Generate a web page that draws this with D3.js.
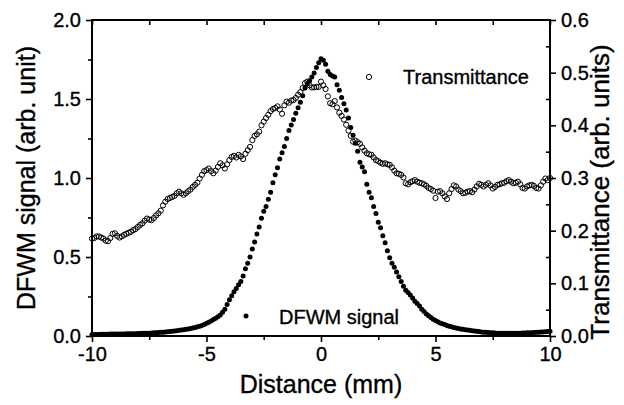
<!DOCTYPE html>
<html><head><meta charset="utf-8">
<script src="https://cdn.jsdelivr.net/npm/d3@7"></script>
<style>body{margin:0;background:#fff} text{font-family:Arial,"Liberation Sans",Helvetica,sans-serif;fill:#000;stroke:#000;stroke-width:0.35px}</style>
</head><body><svg id="c" width="624" height="405"></svg>
<script>
// ---- data (distance grid: -10 mm to 10 mm, 0.1 mm steps) ----
const distanceStart = -10, distanceStep = 0.1;
const dfwmSignal = [
0.010,0.010,0.010,0.010,0.011,0.011,0.011,0.011,0.012,0.012,
0.012,0.012,0.013,0.013,0.013,0.014,0.014,0.014,0.015,0.015,
0.016,0.016,0.017,0.017,0.018,0.018,0.019,0.020,0.021,0.022,
0.023,0.024,0.026,0.027,0.029,0.030,0.032,0.034,0.036,0.038,
0.040,0.042,0.045,0.048,0.051,0.054,0.058,0.062,0.067,0.073,
0.080,0.087,0.095,0.104,0.113,0.122,0.133,0.150,
0.170,0.200,0.230,0.255,0.280,0.300,0.325,0.345,0.380,0.425,
0.460,0.500,0.550,0.595,0.645,0.690,0.745,0.790,0.820,0.865,
0.910,0.970,1.020,1.065,1.120,1.160,1.200,1.250,1.300,1.335,
1.370,1.410,1.445,1.480,1.520,1.570,1.595,1.615,1.640,1.665,
1.700,1.730,1.755,1.745,1.720,1.675,1.655,1.645,1.640,1.590,
1.555,1.510,1.470,1.430,1.380,1.320,1.270,1.220,1.170,1.100,
1.070,1.040,0.960,0.910,0.875,0.820,0.775,0.720,0.685,0.635,
0.590,0.540,0.495,0.460,0.435,0.405,0.375,0.345,0.315,0.290,
0.275,0.260,0.240,0.220,0.205,0.190,0.170,0.155,0.140,0.128,
0.117,0.106,0.098,0.090,0.083,0.077,0.072,0.067,0.062,0.058,
0.054,0.051,0.048,0.045,0.042,0.040,0.038,0.036,0.034,0.032,
0.030,0.028,0.026,0.024,0.023,0.022,0.021,0.020,0.019,0.018,
0.018,0.017,0.017,0.017,0.017,0.017,0.017,0.018,0.018,0.018,
0.019,0.019,0.020,0.020,0.021,0.022,0.023,0.024,0.025,0.026,
0.027,0.028,0.030
];
const transmittance = [
0.185,0.186,0.189,0.189,0.187,0.185,0.181,0.180,0.186,0.194,
0.195,0.190,0.187,0.189,0.192,0.194,0.196,0.198,0.201,0.203,
0.207,0.211,0.214,0.219,0.223,0.221,0.220,0.224,0.229,0.233,
0.238,0.248,0.255,0.260,0.262,0.264,0.266,0.271,0.274,0.271,
0.268,0.271,0.275,0.278,0.283,0.287,0.291,0.299,0.306,0.313,
0.315,0.318,0.313,0.309,0.314,0.321,0.328,0.324,0.318,0.326,
0.334,0.340,0.342,0.339,0.344,0.341,0.336,0.346,0.353,0.359,
0.372,0.380,0.383,0.388,0.400,0.407,0.414,0.420,0.427,0.431,
0.433,0.436,0.430,0.422,0.438,0.445,0.443,0.447,0.448,0.452,
0.458,0.463,0.471,0.480,0.483,0.476,0.472,0.472,0.473,0.473,
0.483,0.476,0.469,0.455,0.442,0.440,0.446,0.434,0.424,0.418,
0.411,0.401,0.390,0.380,0.369,0.371,0.368,0.365,0.358,0.352,
0.347,0.345,0.344,0.339,0.334,0.332,0.329,0.327,0.328,0.326,
0.325,0.320,0.314,0.309,0.308,0.306,0.301,0.290,0.288,0.292,
0.294,0.296,0.293,0.291,0.290,0.288,0.285,0.281,0.279,0.276,
0.262,0.274,0.275,0.271,0.265,0.260,0.271,0.279,0.286,0.284,
0.278,0.275,0.271,0.272,0.274,0.275,0.273,0.278,0.284,0.289,
0.287,0.284,0.287,0.290,0.286,0.280,0.283,0.287,0.288,0.290,
0.291,0.294,0.296,0.293,0.290,0.291,0.293,0.288,0.281,0.280,
0.284,0.286,0.287,0.285,0.281,0.280,0.286,0.293,0.299,0.296,
0.300
];
const xTicks = [-10, -5, 0, 5, 10];
const xMinorTicks = [-7.5, -2.5, 2.5, 7.5];
const yLeftTicks = [0, 0.5, 1.0, 1.5, 2.0];
const yLeftMinor = [0.25, 0.75, 1.25, 1.75];
const yRightTicks = [0, 0.1, 0.2, 0.3, 0.4, 0.5, 0.6];
const yRightMinor = [0.05, 0.15, 0.25, 0.35, 0.45, 0.55];
const xTitle = "Distance (mm)";
const yLeftTitle = "DFWM signal (arb. unit)";
const yRightTitle = "Transmittance (arb. units)";
const legendT = "Transmittance";
const legendD = "DFWM signal";

const distance = dfwmSignal.map((_, i) => +(distanceStart + i * distanceStep).toFixed(1));

const svg = d3.select("#c");
const L = 92, R = 550, T = 20, B = 336;
const x = d3.scaleLinear().domain([-10, 10]).range([L, R]);
const yL = d3.scaleLinear().domain([0, 2]).range([B, T]);
const yR = d3.scaleLinear().domain([0, 0.6]).range([B, T]);

const fmt1 = d => d.toFixed(1);
const fmtX = d => String(d);

function styleAxis(g, fs) {
  g.select(".domain").remove();
  g.selectAll("line").attr("stroke", "#000").attr("stroke-width", 1.6);
  g.selectAll("text").attr("font-size", fs).attr("fill", "#000")
    .style("font-family", "Arial, 'Liberation Sans', sans-serif");
}

// bottom
svg.append("g").attr("transform", `translate(0,${B})`)
  .call(d3.axisBottom(x).tickValues(xTicks).tickFormat(fmtX).tickSize(6).tickPadding(5))
  .call(g => styleAxis(g, 20));
svg.append("g").attr("transform", `translate(0,${B})`)
  .call(d3.axisBottom(x).tickValues(xMinorTicks).tickFormat("").tickSize(4))
  .call(g => styleAxis(g, 20));
// top (inward ticks)
svg.append("g").attr("transform", `translate(0,${T})`)
  .call(d3.axisBottom(x).tickValues(xTicks.concat(xMinorTicks)).tickFormat("").tickSize(5))
  .call(g => styleAxis(g, 20));
// left
svg.append("g").attr("transform", `translate(${L},0)`)
  .call(d3.axisLeft(yL).tickValues(yLeftTicks).tickFormat(fmt1).tickSize(6).tickPadding(5))
  .call(g => styleAxis(g, 20));
svg.append("g").attr("transform", `translate(${L},0)`)
  .call(d3.axisLeft(yL).tickValues(yLeftMinor).tickFormat("").tickSize(4))
  .call(g => styleAxis(g, 20));
// right
svg.append("g").attr("transform", `translate(${R},0)`)
  .call(d3.axisRight(yR).tickValues(yRightTicks).tickFormat(fmt1).tickSize(6).tickPadding(5))
  .call(g => styleAxis(g, 20));
svg.append("g").attr("transform", `translate(${R},0)`)
  .call(d3.axisLeft(yR).tickValues(yRightMinor).tickFormat("").tickSize(4))
  .call(g => styleAxis(g, 20));

// frame
svg.append("rect").attr("x", L).attr("y", T).attr("width", R - L).attr("height", B - T)
  .attr("fill", "none").attr("stroke", "#000").attr("stroke-width", 2);

// transmittance (open circles)
svg.append("g").selectAll("circle").data(transmittance).join("circle")
  .attr("cx", (d, i) => x(distance[i])).attr("cy", d => yR(d)).attr("r", 2.6)
  .attr("fill", "none").attr("stroke", "#000").attr("stroke-width", 1);

// DFWM (filled)
svg.append("g").selectAll("circle").data(dfwmSignal).join("circle")
  .attr("cx", (d, i) => x(distance[i])).attr("cy", d => yL(d)).attr("r", 2.5)
  .attr("fill", "#000");

// legends
svg.append("circle").attr("cx", 369).attr("cy", 77).attr("r", 2.6)
  .attr("fill", "none").attr("stroke", "#000");
svg.append("text").attr("x", 403).attr("y", 84).attr("font-size", 20).text(legendT);
svg.append("circle").attr("cx", 246).attr("cy", 316).attr("r", 2.5).attr("fill", "#000");
svg.append("text").attr("x", 279).attr("y", 324).attr("font-size", 20).text(legendD);

// titles
svg.append("text").attr("x", (L + R) / 2).attr("y", 393).attr("text-anchor", "middle")
  .attr("font-size", 25).text(xTitle);
svg.append("text").attr("transform", `translate(35,${(T + B) / 2}) rotate(-90)`)
  .attr("text-anchor", "middle").attr("font-size", 25).text(yLeftTitle);
svg.append("text").attr("transform", `translate(609,${(T + B) / 2 + 14}) rotate(-90)`)
  .attr("text-anchor", "middle").attr("font-size", 26).text(yRightTitle);
</script></body></html>
